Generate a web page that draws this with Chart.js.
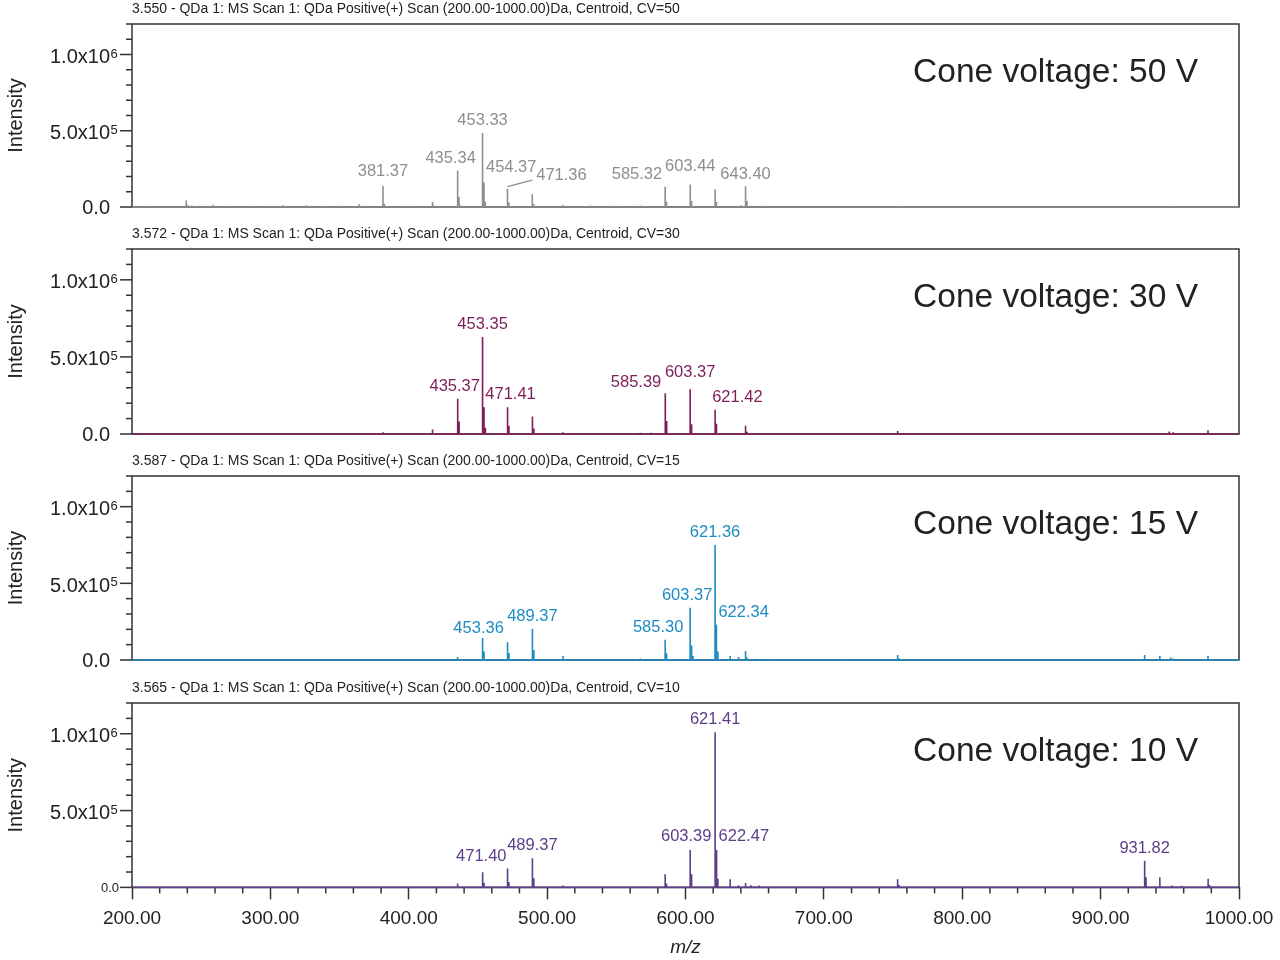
<!DOCTYPE html>
<html>
<head>
<meta charset="utf-8">
<script src="https://cdn.jsdelivr.net/npm/chart.js@4.4.1/dist/chart.umd.min.js"></script>
<style>
  body { margin: 0; background: #fff; }
  #wrap { position: relative; width: 1280px; height: 960px; }
  .panel { position: absolute; left: 0; width: 1280px; }
</style>
</head>
<body>
<div id="wrap"></div>
<script>
"use strict";
// axes
const xMin = 200, xMax = 1000;
const xMajor = [200, 300, 400, 500, 600, 700, 800, 900, 1000];
const yMax = 1.2e6;
const yTicks = [0, 5e5, 1e6];
const yTickText = ['0.0', '5.0x10', '1.0x10'];
const yTickExp = ['', '5', '6'];

const headers = [
  '3.550 - QDa 1: MS Scan 1: QDa Positive(+) Scan (200.00-1000.00)Da, Centroid, CV=50',
  '3.572 - QDa 1: MS Scan 1: QDa Positive(+) Scan (200.00-1000.00)Da, Centroid, CV=30',
  '3.587 - QDa 1: MS Scan 1: QDa Positive(+) Scan (200.00-1000.00)Da, Centroid, CV=15',
  '3.565 - QDa 1: MS Scan 1: QDa Positive(+) Scan (200.00-1000.00)Da, Centroid, CV=10'
];
const cvText = ['Cone voltage: 50 V', 'Cone voltage: 30 V', 'Cone voltage: 15 V', 'Cone voltage: 10 V'];

// CV = 50
const mz50 = [212.1, 226.3, 239.2, 240.2, 243.1, 249.0, 258.5, 271.2, 288.4, 301.1, 309.2, 326.0, 338.3, 351.2,
  364.1, 366.2, 381.37, 382.4, 399.3, 417.2, 418.2, 435.34, 436.3, 437.3, 453.33, 454.37, 455.3, 471.36, 472.4,
  489.3, 490.3, 511.3, 531.2, 549.4, 567.3, 585.32, 586.3, 603.44, 604.4, 621.4, 622.4, 640.2, 643.40, 644.4,
  658.5, 680.3, 700.2, 753.3, 951.6];
const int50 = [6e3, 5e3, 4.2e4, 1.2e4, 1e4, 8e3, 1.5e4, 6e3, 7e3, 6e3, 1.2e4, 1.1e4, 7e3, 8e3,
  1.8e4, 9e3, 1.38e5, 2.2e4, 6e3, 3.5e4, 1e4, 2.39e5, 6.5e4, 1.2e4, 4.85e5, 1.6e5, 3.5e4, 1.2e5, 3e4,
  8.4e4, 2e4, 1.3e4, 1e4, 8e3, 1e4, 1.32e5, 3.5e4, 1.47e5, 4e4, 1.16e5, 3.5e4, 1.2e4, 1.36e5, 4e4,
  8e3, 5e3, 5e3, 6e3, 6e3];
const lab50 = ['381.37', '435.34', '453.33', '454.37', '471.36', '585.32', '603.44', '643.40'];

// CV = 30
const mz30 = [381.4, 417.2, 435.37, 436.4, 453.35, 454.4, 455.4, 471.41, 472.4, 489.4, 490.4, 511.3, 567.3,
  575.2, 585.39, 586.4, 603.37, 604.4, 621.42, 622.4, 643.4, 644.4, 753.3, 949.6, 952.5, 977.6];
const int30 = [1.2e4, 3e4, 2.28e5, 8.1e4, 6.3e5, 1.73e5, 4e4, 1.73e5, 5.3e4, 1.14e5, 3.5e4, 1.1e4, 8e3,
  8e3, 2.65e5, 8.5e4, 2.9e5, 6.4e4, 1.58e5, 6.6e4, 5.3e4, 1.5e4, 2e4, 1.6e4, 1.2e4, 2.4e4];
const lab30 = ['435.37', '453.35', '471.41', '585.39', '603.37', '621.42'];

// CV = 15
const mz15 = [435.3, 453.36, 454.4, 471.4, 472.4, 489.37, 490.4, 511.5, 567.3, 585.30, 586.3, 603.37, 604.4,
  605.4, 621.36, 622.34, 623.4, 632.3, 638.4, 643.4, 644.4, 650.3, 660.2, 715.3, 753.3, 754.3, 931.8, 942.8,
  950.6, 952.6, 977.6];
const int15 = [2e4, 1.43e5, 5.5e4, 1.16e5, 4.5e4, 2.04e5, 6.6e4, 2.6e4, 1e4, 1.32e5, 4.4e4, 3.4e5, 9.4e4,
  2.6e4, 7.5e5, 2.3e5, 5.5e4, 2.6e4, 2e4, 5.9e4, 1.6e4, 8e3, 6e3, 6e3, 3.3e4, 1.2e4, 3.3e4, 2.6e4,
  1.6e4, 1e4, 2.6e4];
const lab15 = ['453.36', '489.37', '585.30', '603.37', '621.36', '622.34'];

// CV = 10
const mz10 = [381.4, 417.2, 435.3, 453.4, 454.4, 471.40, 472.4, 489.37, 490.4, 511.5, 567.3, 585.3, 586.3,
  603.39, 604.4, 621.41, 622.47, 623.4, 632.3, 638.3, 643.4, 647.3, 653.2, 660.3, 753.3, 754.3, 848.8,
  931.82, 932.8, 942.8, 951.6, 958.5, 977.7, 978.7];
const int10 = [6e3, 8e3, 2.6e4, 9.9e4, 3e4, 1.23e5, 3.5e4, 1.89e5, 6e4, 1.2e4, 8e3, 8.6e4, 2.6e4,
  2.43e5, 8.6e4, 1.01e6, 2.43e5, 5.7e4, 5.3e4, 1.4e4, 2.8e4, 1.4e4, 1.2e4, 6e3, 5.3e4, 1.6e4, 6e3,
  1.73e5, 6.6e4, 6.6e4, 1.3e4, 1e4, 5.7e4, 1.5e4];
const lab10 = ['471.40', '489.37', '603.39', '621.41', '622.47', '931.82'];

const FONT = '"Liberation Sans", Arial, sans-serif';
Chart.defaults.font.family = FONT;

// panel frames (page px) and label nudges
const panels = [
  { top: 24,  zero: 207, color: '#8e8e8e', mz: mz50, int: int50, labels: lab50,
    place: { '381.37': ['c', 0, -2], '435.34': ['c', -7, 0], '454.37': ['l', 2, -3], '471.36': ['lead', 54, -1],
             '585.32': ['r', -3, 0], '603.44': ['c', 0, -6], '643.40': ['c', 0, 1] } },
  { top: 249, zero: 434, color: '#7e1d58', mz: mz30, int: int30, labels: lab30,
    place: { '435.37': ['c', -3, 0], '471.41': ['c', 3, 0], '585.39': ['r', -4, 2], '603.37': ['c', 0, -4],
             '621.42': ['l', -3, 0] } },
  { top: 476, zero: 660, color: '#1e8bc3', mz: mz15, int: int15, labels: lab15,
    place: { '453.36': ['c', -4, 3], '585.30': ['c', -7, 0], '603.37': ['c', -3, 0], '622.34': ['l', 2, 0] } },
  { top: 703, zero: 887, color: '#5b3f88', mz: mz10, int: int10, labels: lab10,
    place: { '471.40': ['r', -1, 0], '603.39': ['c', -4, -1], '622.47': ['l', 2, -1] } }
];

function sticks(mz, inten) {
  const pts = [{ x: xMin, y: 0 }];
  mz.forEach((m, i) => {
    pts.push({ x: m, y: 0 }, { x: m, y: inten[i] }, { x: m, y: 0 });
  });
  pts.push({ x: xMax, y: 0 });
  return pts;
}

function seg(ctx, x1, y1, x2, y2) {
  ctx.beginPath();
  ctx.moveTo(x1, y1);
  ctx.lineTo(x2, y2);
  ctx.stroke();
}

const decor = {
  id: 'decor',
  beforeDatasetsDraw(chart, args, o) {
    const { ctx, chartArea: a, scales: { x, y } } = chart;
    ctx.save();
    ctx.strokeStyle = '#333';
    ctx.lineWidth = 1.5;
    ctx.strokeRect(a.left, a.top, a.right - a.left, a.bottom - a.top);
    for (let v = 0; v <= yMax; v += 1e5) {
      const py = y.getPixelForValue(v);
      const len = yTicks.includes(v) ? 12 : 6;
      seg(ctx, a.left - len, py, a.left, py);
    }
    if (o.bottom) {
      for (let v = xMin; v <= xMax; v += 20) {
        if (xMajor.includes(v)) continue;
        const px = x.getPixelForValue(v);
        seg(ctx, px, a.bottom, px, a.bottom + 6);
      }
    }
    // y tick labels with exponent
    ctx.fillStyle = '#222';
    ctx.textBaseline = 'middle';
    yTicks.forEach((v, i) => {
      const py = y.getPixelForValue(v);
      if (i === 0 && o.bottom) {
        ctx.font = '13px ' + FONT;
        ctx.textAlign = 'right';
        ctx.fillText(yTickText[i], a.left - 13, py + 1);
        return;
      }
      ctx.font = '20px ' + FONT;
      ctx.textAlign = 'right';
      const off = yTickExp[i] ? 3 : 1;
      ctx.fillText(yTickText[i], a.left - 22, py + off);
      if (yTickExp[i]) {
        ctx.font = '13px ' + FONT;
        ctx.textAlign = 'left';
        ctx.textBaseline = 'top';
        ctx.fillText(yTickExp[i], a.left - 21.5, py + off - 10);
        ctx.textBaseline = 'middle';
      }
    });
    ctx.restore();
  },
  afterDatasetsDraw(chart, args, o) {
    const { ctx, chartArea: a, scales: { x, y } } = chart;
    ctx.save();
    ctx.font = '16.5px ' + FONT;
    ctx.fillStyle = o.color;
    ctx.strokeStyle = o.color;
    ctx.lineWidth = 1.3;
    ctx.textBaseline = 'middle';
    o.labels.forEach(t => {
      const m = parseFloat(t);
      let k = 0;
      o.mz.forEach((v, i) => { if (Math.abs(v - m) < Math.abs(o.mz[k] - m)) k = i; });
      const px = x.getPixelForValue(o.mz[k]);
      const top = y.getPixelForValue(o.int[k]);
      const p = o.place[t] || ['c', 0, 0];
      const lx = px + p[1];
      const ly = top - 12.5 + p[2];
      ctx.textAlign = p[0] === 'l' ? 'left' : p[0] === 'r' ? 'right' : 'center';
      ctx.fillText(t, lx, ly);
      if (p[0] === 'lead') {
        const w = ctx.measureText(t).width;
        seg(ctx, px, top - 2, lx - w / 2 - 4, ly + 5);
      }
    });
    ctx.restore();
  },
  afterDraw(chart, args, o) {
    const { ctx, chartArea: a } = chart;
    ctx.save();
    ctx.fillStyle = '#222';
    ctx.textBaseline = 'middle';
    ctx.font = '14px ' + FONT;
    ctx.textAlign = 'left';
    ctx.fillText(o.header, a.left, a.top - 15);
    ctx.font = '33.5px ' + FONT;
    ctx.textAlign = 'right';
    ctx.fillText(o.cv, a.right - 41, a.top + 49);
    ctx.translate(16, (a.top + a.bottom) / 2);
    ctx.rotate(-Math.PI / 2);
    ctx.font = '20px ' + FONT;
    ctx.textAlign = 'center';
    ctx.fillText('Intensity', 0, 0);
    ctx.restore();
  }
};

const wrap = document.getElementById('wrap');
panels.forEach((p, i) => {
  const last = i === panels.length - 1;
  const divTop = p.top - 24;
  const div = document.createElement('div');
  div.className = 'panel';
  div.style.top = divTop + 'px';
  div.style.height = (last ? 960 - divTop : p.zero - p.top + 44) + 'px';
  const cv = document.createElement('canvas');
  div.appendChild(cv);
  wrap.appendChild(div);

  new Chart(cv, {
    type: 'line',
    data: {
      datasets: [{
        data: sticks(p.mz, p.int),
        borderColor: p.color,
        borderWidth: 1.6,
        pointRadius: 0,
        tension: 0,
        fill: false,
        clip: false
      }]
    },
    options: {
      animation: false,
      responsive: true,
      maintainAspectRatio: false,
      layout: { padding: { left: 132, right: 41, top: 24, bottom: last ? 1 : 20 } },
      plugins: {
        legend: { display: false },
        tooltip: { enabled: false },
        decor: { header: headers[i], cv: cvText[i], color: p.color, mz: p.mz, int: p.int,
                 labels: p.labels, place: p.place, bottom: last }
      },
      scales: {
        x: {
          type: 'linear', min: xMin, max: xMax, display: last,
          afterFit: s => { s.paddingLeft = 0; s.paddingRight = 0; },
          border: { display: false },
          grid: {
            drawOnChartArea: false, tickLength: 12, tickWidth: 1.5,
            tickColor: c => xMajor.includes(c.tick.value) ? '#333' : 'rgba(0,0,0,0)'
          },
          ticks: {
            stepSize: 20, autoSkip: false, maxRotation: 0, padding: 8, color: '#222',
            font: { size: 19 },
            callback: v => xMajor.includes(v) ? v.toFixed(2) : ''
          },
          title: { display: true, text: 'm/z', color: '#222', font: { size: 19, style: 'italic' },
                   padding: { top: -2, bottom: 0 } }
        },
        y: { min: 0, max: yMax, display: false }
      }
    },
    plugins: [decor]
  });
});
</script>
</body>
</html>
